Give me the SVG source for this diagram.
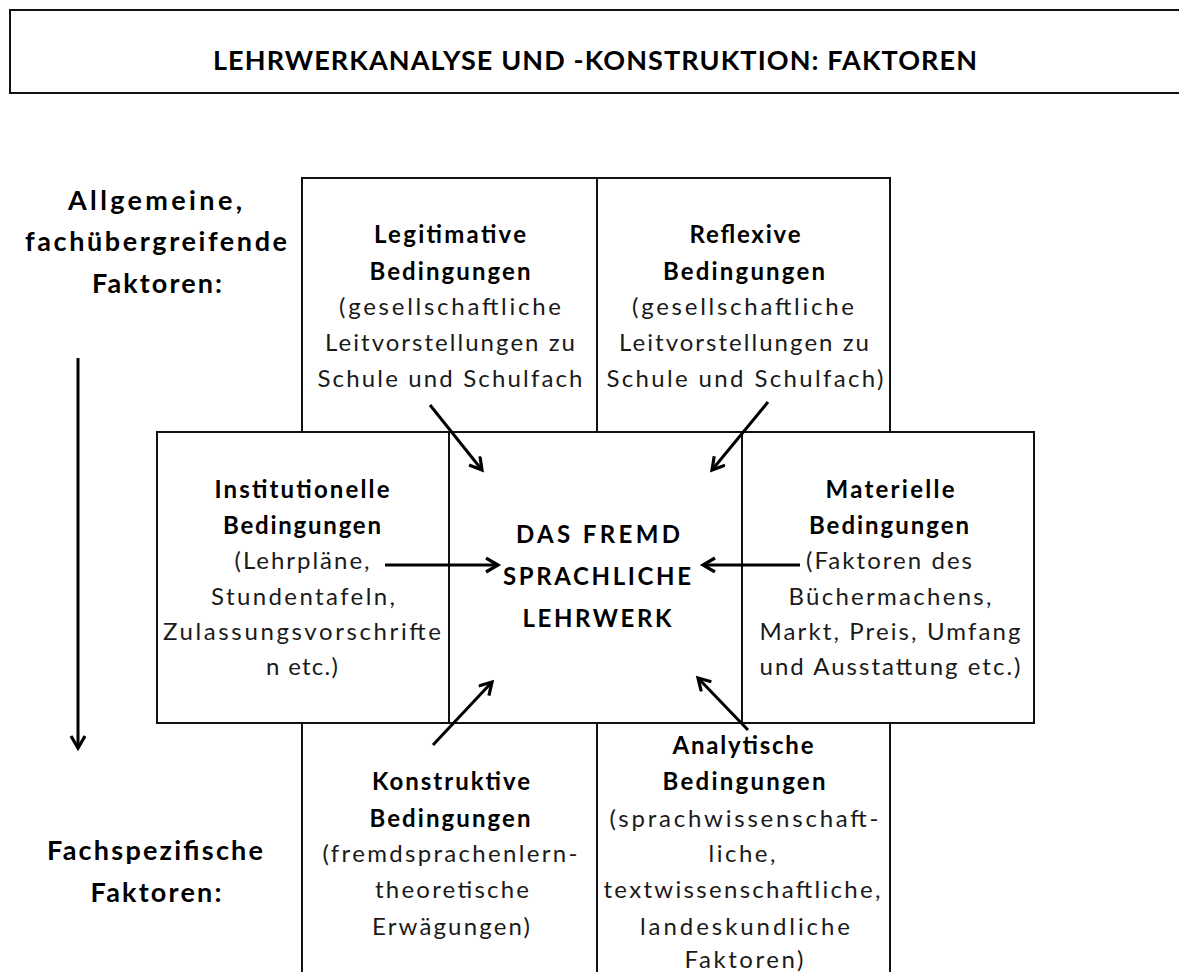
<svg xmlns="http://www.w3.org/2000/svg" width="1179" height="972" viewBox="0 0 1179 972">
  <style>
    .box { fill: #ffffff; stroke: #111111; stroke-width: 2; }
    .t { font-family: Lato, "Open Sans", "Liberation Sans", sans-serif; font-size: 24px; fill: #1a1a1a; text-anchor: middle; }
    .b { font-weight: 700; fill: #000000; }
    .lbl { font-size: 27px; font-weight: 700; fill: #000000; }
    .ttl { font-size: 27px; font-weight: 700; fill: #000000; }
    .ctr { font-size: 24px; font-weight: 700; fill: #000000; }
    .arr { stroke: #000000; stroke-width: 3; fill: none; marker-end: url(#ah); }
  </style>
  <defs>
    <marker id="ah" markerUnits="userSpaceOnUse" markerWidth="20" markerHeight="20" refX="13" refY="8" orient="auto">
      <path d="M1,1 L13,8 L1,15" fill="none" stroke="#000000" stroke-width="3.2" stroke-linejoin="miter"/>
    </marker>
  </defs>
  <rect width="1179" height="972" fill="#ffffff"/>

  <g id="title">
    <rect class="box" x="10" y="10" width="1190" height="83"/>
    <text class="t ttl" x="595" y="70" textLength="764" lengthAdjust="spacing">LEHRWERKANALYSE UND -KONSTRUKTION: FAKTOREN</text>
  </g>

  <g id="label-general">
    <text class="t lbl" x="155" y="210" textLength="174" lengthAdjust="spacing">Allgemeine,</text>
    <text class="t lbl" x="156" y="251" textLength="262" lengthAdjust="spacing">fachübergreifende</text>
    <text class="t lbl" x="157" y="293" textLength="130" lengthAdjust="spacing">Faktoren:</text>
  </g>

  <g id="label-specific">
    <text class="t lbl" x="155" y="860" textLength="216" lengthAdjust="spacing">Fachspezifische</text>
    <text class="t lbl" x="156" y="902" textLength="131" lengthAdjust="spacing">Faktoren:</text>
  </g>

  <g id="legitimative">
    <rect class="box" x="302" y="178" width="295" height="254"/>
    <text class="t b" x="450" y="243" textLength="152" lengthAdjust="spacing">Legitimative</text>
    <text class="t b" x="450" y="280" textLength="161" lengthAdjust="spacing">Bedingungen</text>
    <text class="t" x="450" y="315" textLength="222" lengthAdjust="spacing">(gesellschaftliche</text>
    <text class="t" x="450" y="351" textLength="250" lengthAdjust="spacing">Leitvorstellungen zu</text>
    <text class="t" x="450" y="387" textLength="265" lengthAdjust="spacing">Schule und Schulfach</text>
  </g>

  <g id="reflexive">
    <rect class="box" x="597" y="178" width="293" height="254"/>
    <text class="t b" x="745" y="243" textLength="111" lengthAdjust="spacing">Reflexive</text>
    <text class="t b" x="744" y="280" textLength="162" lengthAdjust="spacing">Bedingungen</text>
    <text class="t" x="743" y="315" textLength="222" lengthAdjust="spacing">(gesellschaftliche</text>
    <text class="t" x="744" y="351" textLength="250" lengthAdjust="spacing">Leitvorstellungen zu</text>
    <text class="t" x="745" y="387" textLength="277" lengthAdjust="spacing">Schule und Schulfach)</text>
  </g>

  <g id="konstruktive">
    <rect class="box" x="302" y="723" width="295" height="270"/>
    <text class="t b" x="451" y="790" textLength="158" lengthAdjust="spacing">Konstruktive</text>
    <text class="t b" x="450" y="827" textLength="161" lengthAdjust="spacing">Bedingungen</text>
    <text class="t" x="450" y="862" textLength="255" lengthAdjust="spacing">(fremdsprachenlern-</text>
    <text class="t" x="452" y="898" textLength="154" lengthAdjust="spacing">theoretische</text>
    <text class="t" x="451" y="935" textLength="158" lengthAdjust="spacing">Erwägungen)</text>
  </g>

  <g id="analytische">
    <rect class="box" x="597" y="723" width="293" height="270"/>
    <text class="t b" x="743" y="754" textLength="141" lengthAdjust="spacing">Analytische</text>
    <text class="t b" x="744" y="790" textLength="163" lengthAdjust="spacing">Bedingungen</text>
    <text class="t" x="744" y="827" textLength="269" lengthAdjust="spacing">(sprachwissenschaft-</text>
    <text class="t" x="742" y="862" textLength="67" lengthAdjust="spacing">liche,</text>
    <text class="t" x="742" y="898" textLength="277" lengthAdjust="spacing">textwissenschaftliche,</text>
    <text class="t" x="745" y="935" textLength="210" lengthAdjust="spacing">landeskundliche</text>
    <text class="t" x="744" y="968" textLength="119" lengthAdjust="spacing">Faktoren)</text>
  </g>

  <g id="institutionelle">
    <rect class="box" x="157" y="432" width="292" height="291"/>
    <text class="t b" x="302" y="498" textLength="175" lengthAdjust="spacing">Institutionelle</text>
    <text class="t b" x="302" y="534" textLength="158" lengthAdjust="spacing">Bedingungen</text>
    <text class="t" x="302" y="569" textLength="135" lengthAdjust="spacing">(Lehrpläne,</text>
    <text class="t" x="303" y="605" textLength="184" lengthAdjust="spacing">Stundentafeln,</text>
    <text class="t" x="302" y="640" textLength="278" lengthAdjust="spacing">Zulassungsvorschrifte</text>
    <text class="t" x="302" y="675" textLength="72" lengthAdjust="spacing">n etc.)</text>
  </g>

  <g id="lehrwerk">
    <rect class="box" x="449" y="432" width="293" height="291"/>
    <text class="t ctr" x="598" y="543" textLength="164" lengthAdjust="spacing">DAS FREMD</text>
    <text class="t ctr" x="597" y="585" textLength="188" lengthAdjust="spacing">SPRACHLICHE</text>
    <text class="t ctr" x="597" y="627" textLength="149" lengthAdjust="spacing">LEHRWERK</text>
  </g>

  <g id="materielle">
    <rect class="box" x="742" y="432" width="292" height="291"/>
    <text class="t b" x="890" y="498" textLength="129" lengthAdjust="spacing">Materielle</text>
    <text class="t b" x="889" y="534" textLength="160" lengthAdjust="spacing">Bedingungen</text>
    <text class="t" x="889" y="569" textLength="166" lengthAdjust="spacing">(Faktoren des</text>
    <text class="t" x="890" y="605" textLength="203" lengthAdjust="spacing">Büchermachens,</text>
    <text class="t" x="890" y="640" textLength="261" lengthAdjust="spacing">Markt, Preis, Umfang</text>
    <text class="t" x="890" y="675" textLength="261" lengthAdjust="spacing">und Ausstattung etc.)</text>
  </g>

  <g id="connectors">
    <line class="arr" x1="78" y1="358" x2="78" y2="748"/>
    <line class="arr" x1="430" y1="405" x2="482" y2="470"/>
    <line class="arr" x1="768" y1="402" x2="712" y2="470"/>
    <line class="arr" x1="385" y1="565" x2="498" y2="565"/>
    <line class="arr" x1="800" y1="565" x2="703" y2="565"/>
    <line class="arr" x1="433" y1="745" x2="492" y2="682"/>
    <line class="arr" x1="748" y1="730" x2="698" y2="678"/>
  </g>
</svg>
